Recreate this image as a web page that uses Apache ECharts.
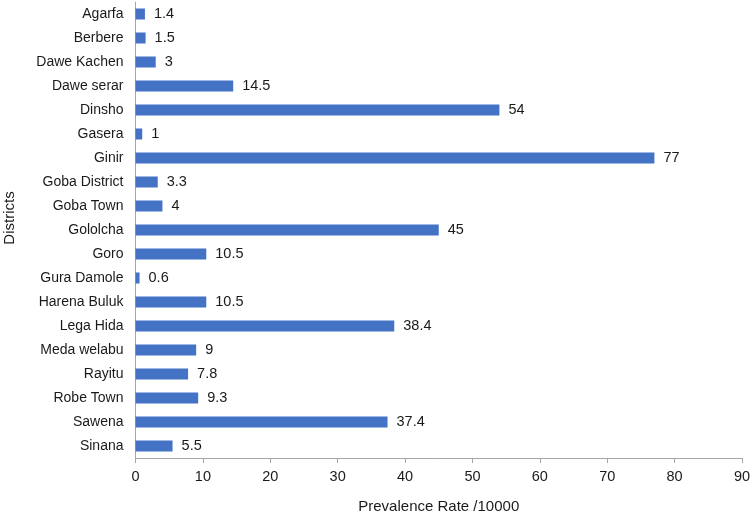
<!DOCTYPE html>
<html><head><meta charset="utf-8">
<script src="https://cdn.jsdelivr.net/npm/echarts@6/dist/echarts.min.js"></script>
<style>html,body{margin:0;padding:0;background:#fff}#c{width:752px;height:514px}</style>
</head><body><div id="c"></div>
<script>
const districts = ["Agarfa","Berbere","Dawe Kachen","Dawe serar","Dinsho","Gasera","Ginir","Goba District","Goba Town","Gololcha","Goro","Gura Damole","Harena Buluk","Lega Hida","Meda welabu","Rayitu","Robe Town","Sawena","Sinana"];
const prevalence = [1.4,1.5,3,14.5,54,1,77,3.3,4,45,10.5,0.6,10.5,38.4,9,7.8,9.3,37.4,5.5];
const xTicks = {min:0, max:90, interval:10};
const chart = echarts.init(document.getElementById('c'));
const font = 'Liberation Sans, Arial, sans-serif';
chart.setOption({
  animation:false,
  grid:{left:135.5, right:10, top:2, bottom:56, containLabel:false, outerBoundsMode:'none'},
  xAxis:{type:'value', min:xTicks.min, max:xTicks.max, interval:xTicks.interval,
    name:'Prevalence Rate /10000', nameLocation:'middle', nameGap:41,
    nameTextStyle:{fontFamily:font, fontSize:15, color:'#1a1a1a'},
    axisLine:{show:true, lineStyle:{color:'#a6a6a6'}},
    axisTick:{show:true, length:5, lineStyle:{color:'#a6a6a6'}},
    axisLabel:{fontFamily:font, fontSize:14.5, color:'#1a1a1a', margin:11},
    splitLine:{show:false}},
  yAxis:{type:'category', data:districts, inverse:true,
    name:'Districts', nameLocation:'middle', nameGap:118, nameRotate:90,
    nameTextStyle:{fontFamily:font, fontSize:15, color:'#1a1a1a', padding:[0,0,0,24]},
    axisLine:{show:true, lineStyle:{color:'#a6a6a6'}},
    axisTick:{show:false},
    axisLabel:{fontFamily:font, fontSize:14, color:'#1a1a1a', margin:12}},
  series:[{type:'bar', data:prevalence, barWidth:11,
    itemStyle:{color:'#4472C4'},
    label:{show:true, position:'right', distance:9, fontFamily:font, fontSize:14.5, color:'#1a1a1a'}}]
});
</script></body></html>
